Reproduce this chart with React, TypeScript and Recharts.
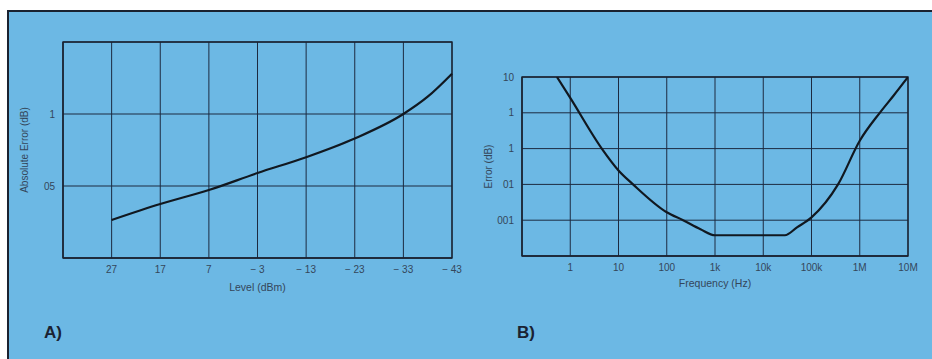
import React from "react";
import {
  CartesianGrid,
  Label,
  Line,
  LineChart,
  ReferenceArea,
  XAxis,
  YAxis
} from "recharts";

// Panel A: absolute error vs level
const levels = [27, 17, 7, -3, -13, -23, -33, -38, -43];
const absError = [0.264, 0.375, 0.472, 0.59, 0.7, 0.83, 1.0, 1.12, 1.28];
const levelTicks = [27, 17, 7, -3, -13, -23, -33, -43];
const absErrorTicks = [0.5, 1];
const absErrorLabels = ["05", "1"];

// Panel B: error vs frequency (log-log)
const freqs = [0.53, 1, 4.5, 10, 20, 100, 218, 500, 1000, 28000, 50000, 100000, 355000, 1e6, 2.6e6, 5e6, 1e7];
const freqError = [10, 2.6, 0.1, 0.0245, 0.01, 0.00166, 0.001, 0.00056, 0.00038, 0.00038, 0.00063, 0.0012, 0.01, 0.166, 1, 3, 10];
const freqTicks = [1, 10, 100, 1000, 1e4, 1e5, 1e6, 1e7];
const freqLabels = ["1", "10", "100", "1k", "10k", "100k", "1M", "10M"];
const errTicks = [0.001, 0.01, 0.1, 1, 10];
const errLabels = ["001", "01", "1", "1", "10"];

const dataA = levels.map((level, i) => ({ level, err: absError[i] }));
const dataB = freqs.map((f, i) => ({ f, err: freqError[i] }));

const ink = "#1a2230";
const grid = "#1c2a40";
const textCol = "#34465a";
const font = "'Liberation Sans', Arial, sans-serif";
const tick = { fill: textCol, fontSize: 10, fontFamily: font };
const title = { fill: textCol, fontSize: 10.5, fontFamily: font };

function fmtLevel(v: number) {
  return v < 0 ? `\u2212 ${-v}` : `${v}`;
}

function lookup(ticks: number[], labels: string[]) {
  return (v: number) => {
    const i = ticks.findIndex((t) => Math.abs(t - v) / t < 1e-6);
    return i >= 0 ? labels[i] : "";
  };
}

export default function App() {
  return (
    <div style={{ position: "absolute", left: 0, top: 0, width: 932, height: 359, background: "#fff", overflow: "hidden" }}>
      <div
        style={{
          position: "absolute",
          left: 7,
          top: 10,
          right: 0,
          bottom: 0,
          background: "#6cb8e4",
          borderTop: `2px solid ${ink}`,
          borderLeft: `2px solid ${ink}`
        }}
      />

      <div style={{ position: "absolute", left: 0, top: 0 }}>
        <LineChart width={470} height={310} data={dataA} margin={{ top: 42, right: 18, bottom: 12, left: 24 }}>
          <CartesianGrid stroke={grid} strokeWidth={1} />
          <XAxis
            dataKey="level"
            type="number"
            domain={[-43, 37]}
            reversed
            ticks={levelTicks}
            tickFormatter={fmtLevel}
            tickLine={false}
            axisLine={{ stroke: ink }}
            tick={tick}
            height={40}
            interval={0}
          >
            <Label value="Level (dBm)" position="insideBottom" offset={7} style={title} />
          </XAxis>
          <YAxis
            type="number"
            domain={[0, 1.5]}
            ticks={absErrorTicks}
            tickFormatter={lookup(absErrorTicks, absErrorLabels)}
            tickLine={false}
            axisLine={{ stroke: ink }}
            tick={tick}
            width={39}
          >
            <Label
              value="Absolute Error (dB)"
              angle={-90}
              position="insideLeft"
              offset={0}
              style={{ ...title, fontSize: 10, textAnchor: "middle" }}
            />
          </YAxis>
          <ReferenceArea x1={37} x2={-43} y1={0} y2={1.5} fill="none" stroke={ink} strokeWidth={1.3} />
          <Line
            dataKey="err"
            type="monotone"
            stroke="#111820"
            strokeWidth={2.2}
            dot={false}
            isAnimationActive={false}
          />
        </LineChart>
      </div>

      <div style={{ position: "absolute", left: 470, top: 0 }}>
        <LineChart width={462} height={310} data={dataB} margin={{ top: 77, right: 24, bottom: 14, left: 18 }}>
          <CartesianGrid stroke={grid} strokeWidth={1} />
          <XAxis
            dataKey="f"
            type="number"
            scale="log"
            domain={[0.1, 1e7]}
            ticks={freqTicks}
            tickFormatter={lookup(freqTicks, freqLabels)}
            tickLine={false}
            axisLine={{ stroke: ink }}
            tick={tick}
            height={40}
            interval={0}
            allowDataOverflow
          >
            <Label value="Frequency (Hz)" position="insideBottom" offset={9} style={title} />
          </XAxis>
          <YAxis
            type="number"
            scale="log"
            domain={[1e-4, 10]}
            ticks={errTicks}
            tickFormatter={lookup(errTicks, errLabels)}
            tickLine={false}
            axisLine={{ stroke: ink }}
            tick={tick}
            width={34}
            allowDataOverflow
          >
            <Label
              value="Error (dB)"
              angle={-90}
              position="insideLeft"
              offset={0}
              style={{ ...title, fontSize: 10, textAnchor: "middle" }}
            />
          </YAxis>
          <ReferenceArea x1={0.1} x2={1e7} y1={1e-4} y2={10} fill="none" stroke={ink} strokeWidth={1.3} />
          <Line
            dataKey="err"
            type="monotone"
            stroke="#111820"
            strokeWidth={2.2}
            dot={false}
            isAnimationActive={false}
          />
        </LineChart>
      </div>

      <div style={{ position: "absolute", left: 44, top: 323, fontFamily: font, fontWeight: 700, fontSize: 17, color: "#1a2232" }}>A)</div>
      <div style={{ position: "absolute", left: 517, top: 323, fontFamily: font, fontWeight: 700, fontSize: 17, color: "#1a2232" }}>B)</div>
    </div>
  );
}
